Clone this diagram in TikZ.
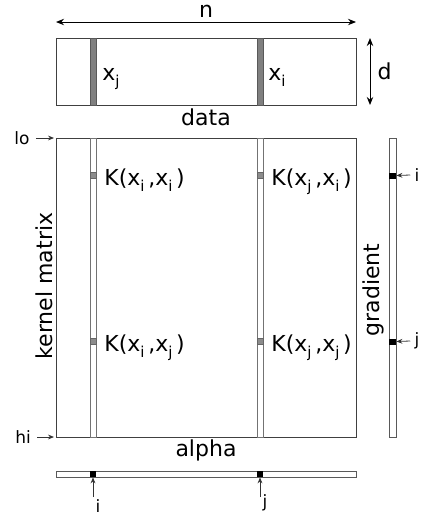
\documentclass[tikz,border=0pt]{standalone}
\usepackage{fontspec}
\setmainfont{DejaVu Sans}
\usetikzlibrary{arrows.meta, positioning}

% lowered index letter, as in x_i
\newcommand{\idx}[1]{\raisebox{-0.55ex}{\fontsize{7.5}{8}\selectfont #1}}

\begin{document}
\begin{tikzpicture}[x=0.5pt, y=-0.5pt,
    box/.style={draw=black!75, line width=0.5pt, inner sep=0pt},
    column/.style={draw=black!55, fill=white, line width=0.5pt, inner sep=0pt, minimum width=3pt},
    cell/.style={draw=black!60, fill=black!45, line width=0.4pt, inner sep=0pt, minimum width=3pt, minimum height=3pt},
    hit/.style={fill=black, inner sep=0pt, minimum width=3pt, minimum height=3pt},
    pointer/.style={-{Stealth[length=3pt, width=2.4pt]}, line width=0.4pt, black!80},
    dim/.style={{Stealth[length=4pt, width=3.2pt]}-{Stealth[length=4pt, width=3.2pt]}, line width=0.5pt},
    big/.style={font=\fontsize{11}{13}\selectfont},
    small/.style={font=\fontsize{8.5}{10}\selectfont}]
    \useasboundingbox (0,0) rectangle (421,514);

    % data block with the two sample columns
    \node[box, minimum width=150pt, minimum height=33.5pt] (data) at (206,71.5) {};
    \node[box, fill=black!50, draw=black!65, minimum width=3pt, minimum height=33.5pt] (xj) at (93,71.5) {};
    \node[box, fill=black!50, draw=black!65, minimum width=3pt, minimum height=33.5pt] (xi) at (260,71.5) {};
    \node[big, anchor=base west, inner sep=0pt] (xjlab) at (102,80) {x\idx{j}};
    \node[big, anchor=base west, inner sep=0pt] (xilab) at (268,80) {x\idx{i}};
    \node[big, below=1.5pt of data, inner sep=0pt] (datalab) {data};

    % sizes n and d
    \coordinate (nl) at (56,22);
    \coordinate (nr) at (356,22);
    \draw[dim] (nl) -- (nr) node[big, midway, above, inner sep=2pt] (nlab) {n};
    \coordinate (dt) at (370,38);
    \coordinate (db) at (370,105);
    \draw[dim] (dt) -- (db) node[big, midway, right, inner sep=3.5pt] (dlab) {d};

    % kernel matrix with the two columns in cache
    \node[box, minimum width=150pt, minimum height=149.5pt] (kernel) at (206,287.5) {};
    \node[column, minimum height=149.5pt] (colj) at (93,287.5) {};
    \node[column, minimum height=149.5pt] (coli) at (260,287.5) {};
    \node[cell] (kii) at (93,175) {};
    \node[cell] (kij) at (93,341) {};
    \node[cell] (kji) at (260,175) {};
    \node[cell] (kjj) at (260,341) {};
    \node[big, anchor=base west, inner sep=0pt] at (104,185) {K(x\idx{i}\,,x\idx{i}\,)};
    \node[big, anchor=base west, inner sep=0pt] at (104,351) {K(x\idx{i}\,,x\idx{j}\,)};
    \node[big, anchor=base west, inner sep=0pt] at (271,185) {K(x\idx{j}\,,x\idx{i}\,)};
    \node[big, anchor=base west, inner sep=0pt] at (271,351) {K(x\idx{j}\,,x\idx{j}\,)};
    \node[big, rotate=90] (kernellab) at (44,286) {kernel matrix};

    % lo / hi bounds
    \node[small, inner sep=0pt] (lo) at (22,138) {lo};
    \node[small, inner sep=0pt] (hi) at (23,437) {hi};
    \coordinate (lotip) at (54,138);
    \coordinate (hitip) at (54,437);
    \draw[pointer] ([xshift=3pt]lo.east) -- (lotip);
    \draw[pointer] ([xshift=3pt]hi.east) -- (hitip);

    % gradient vector
    \node[column, draw=black!65, minimum width=3.5pt, minimum height=149.5pt] (grad) at (392.5,287.5) {};
    \node[hit, minimum width=3.5pt] (gi) at (392.5,175.5) {};
    \node[hit, minimum width=3.5pt] (gj) at (392.5,341.5) {};
    \node[big, rotate=90] (gradlab) at (373,290) {gradient};
    \node[small, inner sep=0pt] (gilab) at (417,175) {i};
    \node[small, inner sep=0pt] (gjlab) at (417,341) {j};
    \draw[pointer] ([xshift=-2pt]gilab.west) -- (gi.east);
    \draw[pointer] ([xshift=-2pt]gjlab.west) -- (gj.east);

    % alpha vector
    \node[big, inner sep=0pt] (alphalab) at (206,450) {alpha};
    \node[column, draw=black!65, minimum width=150pt, minimum height=3pt] (alpha) at (206,474) {};
    \node[hit] (ai) at (93,474) {};
    \node[hit] (aj) at (260,474) {};
    \coordinate (aitail) at (93,497);
    \coordinate (ajtail) at (260,497);
    \draw[pointer] (aitail) -- (ai.south);
    \draw[pointer] (ajtail) -- (aj.south);
    \node[small, inner sep=0pt] (ailab) at (98,506) {i};
    \node[small, inner sep=0pt] (ajlab) at (265,503) {j};
\end{tikzpicture}
\end{document}
